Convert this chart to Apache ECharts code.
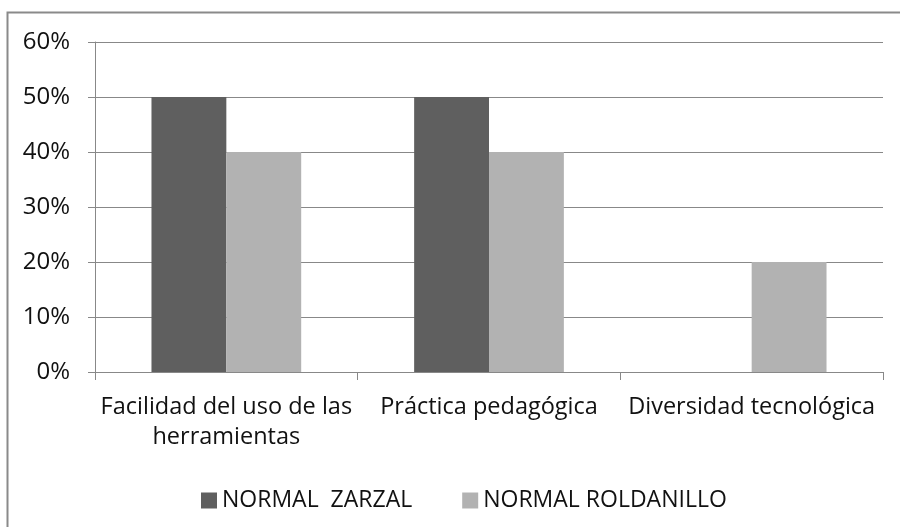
<!DOCTYPE html>
<html>
<head>
<meta charset="utf-8">
<script src="https://cdn.jsdelivr.net/npm/echarts@6/dist/echarts.min.js"></script>
<style>
  html, body { margin: 0; padding: 0; background: #fff; }
  #chart { width: 900px; height: 527px; }
</style>
</head>
<body>
<div id="chart"></div>
<script>
var categories = ['Facilidad del uso de las\nherramientas', 'Práctica pedagógica', 'Diversidad tecnológica']
var zarzal = [0.5, 0.5, 0]
var roldanillo = [0.4, 0.4, 0.2]
var yTicks = [0, 0.1, 0.2, 0.3, 0.4, 0.5, 0.6]

var chart = echarts.init(document.getElementById('chart'))
var font = 'Open Sans'

chart.setOption({
  animation: false,
  backgroundColor: '#fff',
  graphic: [{
    type: 'rect',
    shape: { x: 7.5, y: 12.5, width: 910, height: 530 },
    style: { fill: 'none', stroke: '#8a8a8a', lineWidth: 2 },
    silent: true
  }],
  grid: { left: 95, right: 17, top: 42, bottom: 155 },
  legend: {
    top: 484,
    left: 196,
    itemWidth: 16,
    itemHeight: 16,
    itemGap: 50,
    icon: 'rect',
    textStyle: { fontFamily: font, fontSize: 23, color: '#111' },
    data: ['NORMAL  ZARZAL', 'NORMAL ROLDANILLO']
  },
  xAxis: {
    type: 'category',
    data: categories,
    axisLine: { lineStyle: { color: '#888', width: 1 } },
    axisTick: { show: true, length: 8, lineStyle: { color: '#888' } },
    axisLabel: { fontFamily: font, fontSize: 23.5, color: '#111', margin: 20, lineHeight: 30, interval: 0 }
  },
  yAxis: {
    type: 'value',
    min: yTicks[0],
    max: yTicks[yTicks.length - 1],
    interval: 0.1,
    axisLine: { show: true, lineStyle: { color: '#888' } },
    axisTick: { show: true, length: 7, lineStyle: { color: '#888' } },
    splitLine: { lineStyle: { color: '#888', width: 1 } },
    axisLabel: {
      fontFamily: font, fontSize: 24, color: '#111', margin: 25,
      formatter: function (v) { return Math.round(v * 100) + '%' }
    }
  },
  series: [
    {
      name: 'NORMAL  ZARZAL',
      type: 'bar',
      data: zarzal,
      barGap: '0%',
      barCategoryGap: '43%',
      itemStyle: { color: '#5f5f5f' }
    },
    {
      name: 'NORMAL ROLDANILLO',
      type: 'bar',
      data: roldanillo,
      barGap: '0%',
      barCategoryGap: '43%',
      itemStyle: { color: '#b2b2b2' }
    }
  ]
})
</script>
</body>
</html>
